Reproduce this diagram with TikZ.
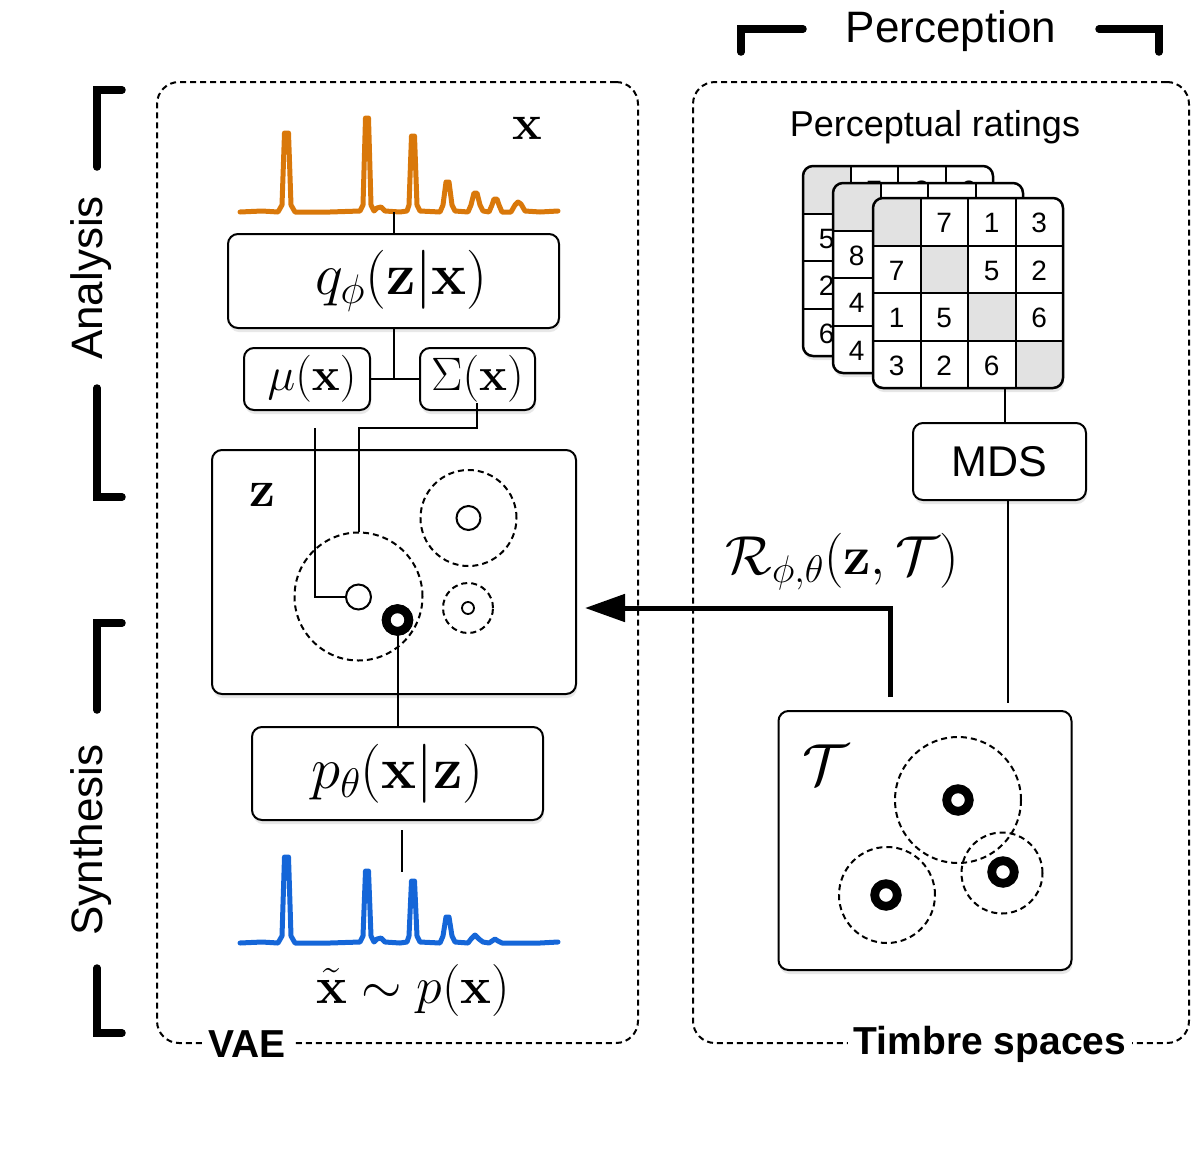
\RequirePackage{fix-cm}
\documentclass[tikz,border=0pt]{standalone}
\usepackage[no-math]{fontspec}
\newfontfamily\hv{Liberation Sans}
\usetikzlibrary{shadows,arrows.meta,calc}
\definecolor{specor}{HTML}{D9780A}
\definecolor{specbl}{HTML}{1566D8}
\definecolor{cellgray}{HTML}{E2E2E2}
\tikzset{
 box/.style={draw, line width=2pt, rounded corners=10pt, fill=white, inner sep=0pt,
   drop shadow={shadow xshift=1pt, shadow yshift=-4pt, opacity=0.18}},
 frame/.style={draw, line width=2pt, dash pattern=on 6pt off 4pt, rounded corners=22pt, inner sep=0pt},
 conn/.style={line width=2pt},
 brk/.style={line width=7.5pt, line cap=round, line join=miter},
 dcirc/.style={circle, draw, line width=2pt, dash pattern=on 6pt off 4pt, inner sep=0pt},
 ocirc/.style={circle, draw, line width=2pt, fill=white, inner sep=0pt},
 ring/.style={circle, draw, line width=8.8pt, fill=white, inner sep=0pt, minimum size=22.6pt},
 sans/.style={font=\hv\fontsize{#1}{#1}\selectfont},
 mth/.style={font=\fontsize{#1}{#1}\selectfont},
 spec/.style={line width=5pt, line join=round, line cap=round},
}
\newcommand\ratingcard[3]{%
 \begin{scope}[shift={(#1,#2)}]
  \fill[white, rounded corners=10pt, drop shadow={shadow xshift=1pt, shadow yshift=-4pt, opacity=0.2}] (0,0) rectangle (190,190);
  \begin{scope}
   \clip[rounded corners=10pt] (0,0) rectangle (190,190);
   \foreach \k in {0,...,3} \fill[cellgray] (47.5*\k,47.5*\k) rectangle ++(47.5,47.5);
  \end{scope}
  \foreach \k in {1,2,3} {\draw[line width=2pt] (47.5*\k,0) -- (47.5*\k,190); \draw[line width=2pt] (0,47.5*\k) -- (190,47.5*\k);}
  \draw[line width=2.5pt, rounded corners=10pt] (0,0) rectangle (190,190);
  \foreach \r/\c/\d in {#3} \node[sans=28, inner sep=0pt] at (47.5*\c+23.75, 47.5*\r+25) {\d};
 \end{scope}}
\begin{document}
\begin{tikzpicture}[x=1pt,y=-1pt]
\useasboundingbox (0,0) rectangle (1197,1149);

% frames
\node[frame, minimum width=481pt, minimum height=961pt] (vae) at (397.5,562.5) {};
\node[frame, minimum width=496pt, minimum height=961pt] (ts) at (941,562.5) {};
\node[fill=white, inner sep=6pt, font=\hv\bfseries\fontsize{39}{39}\selectfont] (vaelab) at (247,1044) {VAE};
\node[fill=white, inner sep=6pt, font=\hv\bfseries\fontsize{39}{39}\selectfont] (tslab) at (990,1044) {Timbre spaces};

% brackets
\node[sans=44] (perc) at (951,31) {Perception};
\draw[brk] (741,52) -- (741,29) -- (803,29);
\draw[brk] (1099,29) -- (1159,29) -- (1159,52);
\draw[brk] (122,90) -- (97,90) -- (97,167);
\draw[brk] (97,388) -- (97,497) -- (122,497);
\node[sans=44, rotate=90] (ana) at (91,278) {Analysis};
\draw[brk] (122,623) -- (97,623) -- (97,710);
\draw[brk] (97,968) -- (97,1033) -- (122,1033);
\node[sans=44, rotate=90] (syn) at (91,840) {Synthesis};

% orange spectrum
\draw[spec, specor] (240,212) -- (262,211) -- (278,212) -- (282,205) -- (284.5,133) -- (288.5,133) -- (291,205) -- (295,212) -- (330,212) -- (360,211) -- (363,205) -- (365.5,118) -- (368.5,118) -- (371,205) -- (374,211) -- (377,208) -- (381,207) -- (385,211) -- (400,212) -- (407,211) -- (409,205) -- (411.5,136) -- (414.5,136) -- (417,205) -- (420,211) -- (440,212) -- (443,205) -- (446,182) -- (449,182) -- (452,205) -- (455,211) -- (468,212) -- (471,205) -- (474,193) -- (477,193) -- (480,205) -- (483,211) -- (489,212) -- (492,205) -- (494,199) -- (497,199) -- (499,205) -- (502,212) -- (511,212) -- (515,205) -- (518,202) -- (521,204) -- (525,211) -- (540,212) -- (558,211);
\node[mth=50] (xlab) at (527,128) {$\mathbf{x}$};

% blue spectrum
\draw[spec, specbl] (240,943) -- (262,942) -- (278,943) -- (282,936) -- (284.5,857) -- (288.5,857) -- (291,936) -- (295,943) -- (330,943) -- (360,942) -- (363,936) -- (365.5,871) -- (368.5,871) -- (371,936) -- (374,942) -- (377,939) -- (381,938) -- (385,942) -- (400,943) -- (407,942) -- (409,936) -- (411.5,881) -- (414.5,881) -- (417,936) -- (420,942) -- (440,943) -- (443,936) -- (446,917) -- (449,917) -- (452,936) -- (455,942) -- (468,943) -- (471,939) -- (475,935) -- (479,939) -- (483,942) -- (489,943) -- (492,941) -- (495,939) -- (498,941) -- (502,943) -- (540,943) -- (558,942);
\node[mth=52] (xt) at (413,990) {$\tilde{\mathbf{x}} \sim p(\mathbf{x})$};

% encoder
\node[box, mth=59, minimum width=331pt, minimum height=94pt] (q) at (393.5,281) {$\kern16pt q_\phi(\mathbf{z}|\mathbf{x})$};
\node[box, mth=47, minimum width=126pt, minimum height=62pt] (mu) at (307,379) {$\kern10pt\mu(\mathbf{x})$};
\node[box, mth=47, minimum width=115pt, minimum height=62pt] (sig) at (477.5,379) {$\Sigma(\mathbf{x})$};

% latent space
\node[box, minimum width=364pt, minimum height=244pt] (zb) at (394,572) {};
\node[mth=52] (zlab) at (262,495) {$\mathbf{z}$};
\node[dcirc, minimum size=128pt] (v1) at (358.5,596.5) {};
\node[dcirc, minimum size=96pt] (v2) at (468.5,518) {};
\node[ocirc, minimum size=24pt] (m2) at (468.5,518) {};
\node[dcirc, minimum size=50pt] (v3) at (468,608) {};
\node[ocirc, minimum size=12pt, line width=1.8pt] (m3) at (468,608) {};
\node[ocirc, minimum size=25pt] (m1) at (358.5,597) {};
\node[ring] (zs) at (397.5,620) {};

% decoder
\node[box, mth=59, minimum width=291pt, minimum height=93pt] (p) at (397.5,773.5) {$p_\theta(\mathbf{x}|\mathbf{z})$};

% connectors VAE
\coordinate (sx) at (393.5,212);
\draw[conn] (sx) -- (q.north);
\coordinate (jn) at (393.5,379);
\draw[conn] (q.south) -- (jn);
\draw[conn] (mu.east) -- (sig.west);
\coordinate (mus) at (315,428);
\draw[conn] (mus) |- (m1.west);
\coordinate (sgs) at (477,403);
\coordinate (sgb) at (477,428);
\draw[conn] (sgs) -- (sgb) -| (v1.north);
\draw[conn] (zs.center) -- (p.north);
\node[ring] at (zs) {};
\coordinate (st1) at (402,830);
\coordinate (st2) at (402,872);
\draw[conn] (st1) -- (st2);

% perceptual ratings
\node[sans=36] (pr) at (935,127) {Perceptual ratings};
\ratingcard{803}{166}{0/1/7, 0/2/3, 0/3/9, 1/0/5, 1/2/4, 1/3/1, 2/0/2, 2/1/4, 2/3/3, 3/0/6, 3/1/1, 3/2/3}
\ratingcard{833}{183}{0/1/7, 0/2/2, 0/3/3, 1/0/8, 1/2/5, 1/3/3, 2/0/4, 2/1/3, 2/3/1, 3/0/4, 3/1/1, 3/2/2}
\ratingcard{873}{198}{0/1/7, 0/2/1, 0/3/3, 1/0/7, 1/2/5, 1/3/2, 2/0/1, 2/1/5, 2/3/6, 3/0/3, 3/1/2, 3/2/6}

\node[box, sans=43, minimum width=173pt, minimum height=77pt] (mds) at (999.5,461.5) {MDS};
\coordinate (gb) at (1005,388);
\draw[conn] (gb) -- (gb |- mds.north);

% timbre space
\node[box, minimum width=293pt, minimum height=259pt] (tb) at (925,840.5) {};
\node[mth=58] (tlab) at (826,765) {$\mathcal{T}$};
\node[dcirc, minimum size=126pt] (t1) at (958,800) {};
\node[dcirc, minimum size=96pt] (t2) at (887,895) {};
\node[dcirc, minimum size=81pt] (t3) at (1002,873) {};
\node[ring] (r1) at (958,800) {};
\node[ring] (r2) at (886,895) {};
\node[ring] (r3) at (1003,872) {};
\coordinate (tt) at (1008,703);
\draw[conn] (tt |- mds.south) -- (tt);

% regularisation arrow
\node[mth=55] (rlab) at (842,562) {$\mathcal{R}_{\phi,\theta}(\mathbf{z},\mathcal{T})$};
\coordinate (rs) at (890,697);
\coordinate (re) at (585,608);
\draw[line width=5pt, -{Triangle[length=40pt,width=27pt]}] (rs) |- (re);
\end{tikzpicture}
\end{document}
